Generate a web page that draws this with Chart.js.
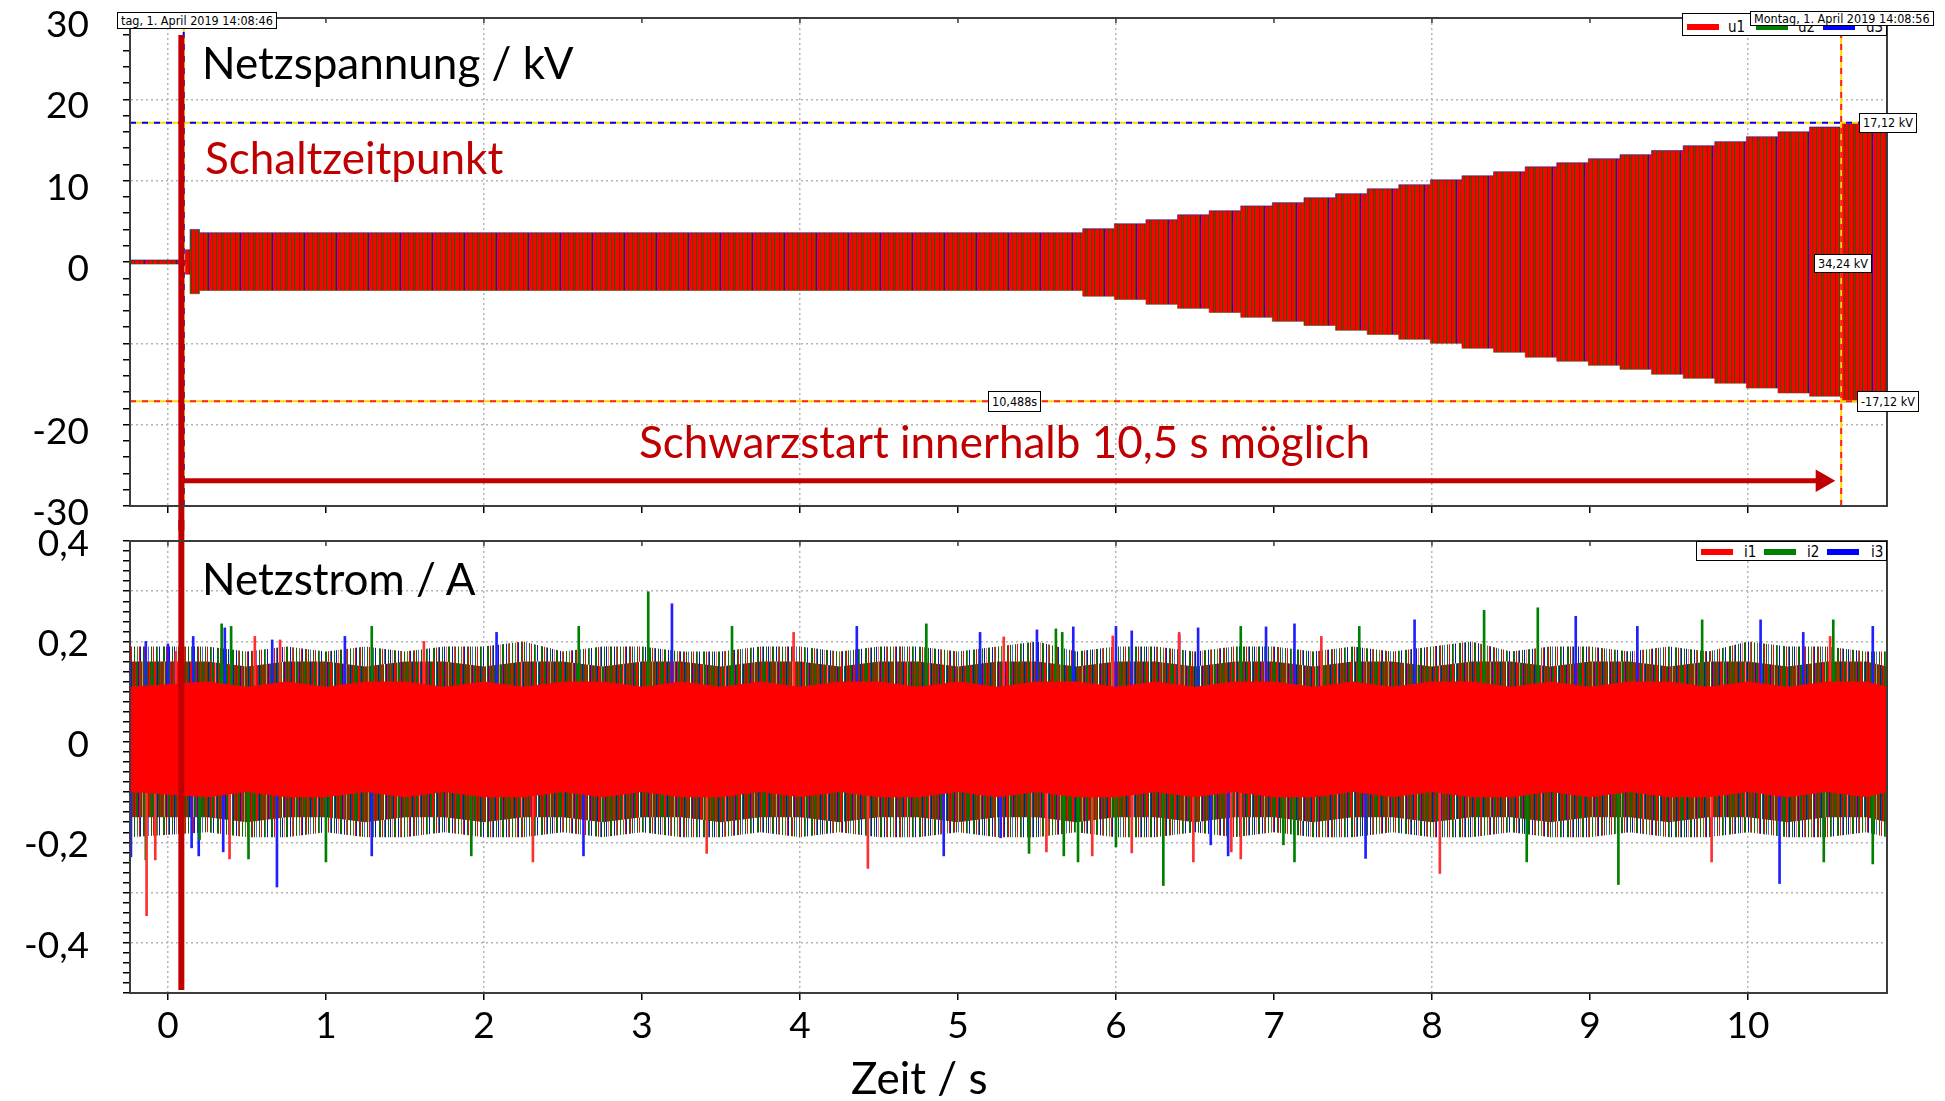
<!DOCTYPE html>
<html>
<head>
<meta charset="utf-8">
<script src="https://cdn.jsdelivr.net/npm/chart.js@4.4.1/dist/chart.umd.min.js"></script>
<style>
    html, body { margin: 0; padding: 0; background: #fff; }
    body { width: 1945px; height: 1101px; position: relative; overflow: hidden; font-family: Lato, "Open Sans", sans-serif; }
    canvas { position: absolute; left: 0; }
    #topChart { top: 0; }
    #botChart { top: 520px; }
    .lbl { position: absolute; white-space: nowrap; line-height: 1; font-size: 44px; color: #000; }
    .red { color: #c00000; }
    .box { position: absolute; background: #fff; border: 1px solid #000; box-sizing: border-box;
           font-family: "Liberation Sans Narrow", "DejaVu Sans Condensed", sans-serif; font-size: 12.5px;
           line-height: 13px; padding: 0 3px; white-space: nowrap; color: #000; }
    .legend { position: absolute; background: #fff; border: 1px solid #000; box-sizing: border-box; }
    .legend span { position: absolute; font-family: "Liberation Sans Narrow", "DejaVu Sans Condensed", sans-serif; font-size: 15px; line-height: 1; }
    .legend i { position: absolute; height: 6px; width: 32px; }
</style>
</head>
<body>
<canvas id="topChart" width="1945" height="545"></canvas>
<canvas id="botChart" width="1945" height="581"></canvas>

<div class="lbl" style="left:202px;top:40px;">Netzspannung / kV</div>
<div class="lbl red" style="left:205px;top:135px;">Schaltzeitpunkt</div>
<div class="lbl red" style="left:639px;top:419px;">Schwarzstart innerhalb 10,5 s möglich</div>
<div class="lbl" style="left:202px;top:556px;">Netzstrom / A</div>
<div class="lbl" style="left:851px;top:1055px;">Zeit / s</div>

<div class="legend" style="left:1682px;top:13px;width:205px;height:23px;">
    <i style="left:4px;top:10px;background:#ff0000;"></i><span style="left:45px;top:6px;">u1</span>
    <i style="left:73px;top:10px;background:#008000;"></i><span style="left:115px;top:6px;">u2</span>
    <i style="left:140px;top:10px;background:#0000ff;"></i><span style="left:183px;top:6px;">u3</span>
</div>
<div class="box" style="left:117px;top:12px;height:17px;line-height:15px;">tag, 1. April 2019 14:08:46</div>
<div class="box" style="left:1750px;top:11px;height:15px;">Montag, 1. April 2019 14:08:56</div>
<div class="legend" style="left:1696px;top:541px;width:191px;height:20px;">
    <i style="left:4px;top:7px;background:#ff0000;"></i><span style="left:47px;top:3px;">i1</span>
    <i style="left:67px;top:7px;background:#008000;"></i><span style="left:110px;top:3px;">i2</span>
    <i style="left:130px;top:7px;background:#0000ff;"></i><span style="left:174px;top:3px;">i3</span>
</div>
<div class="box" style="left:1859px;top:113px;height:20px;line-height:18px;">17,12 kV</div>
<div class="box" style="left:1814px;top:254px;height:19px;line-height:17px;">34,24 kV</div>
<div class="box" style="left:1857px;top:391px;height:21px;line-height:19px;">-17,12 kV</div>
<div class="box" style="left:988px;top:391px;height:21px;line-height:19px;">10,488s</div>

<script>
// time axis (s)
const xMin = -0.24;
const xMax = 10.88;

// Netzspannung: envelope of u1..u3 (kV), stepwise ramp after ~5.8 s
const uTime  = [-0.24, 0.11, 0.14, 0.2, 5.79, 5.99, 6.19, 6.39, 6.59, 6.79, 6.99, 7.19, 7.39, 7.59, 7.79, 7.99, 8.19, 8.39, 8.59, 8.79, 8.99, 9.19, 9.39, 9.59, 9.79, 9.99, 10.19, 10.39, 10.59, 10.88];
const uUpper = [0.25, 1.5, 4.0, 3.6, 4.1, 4.7, 5.2, 5.8, 6.3, 6.9, 7.3, 7.9, 8.4, 9.0, 9.5, 10.1, 10.6, 11.1, 11.7, 12.2, 12.7, 13.2, 13.7, 14.3, 14.8, 15.4, 16.0, 16.6, 17.1, 17.1];
const uLower = [-0.25, -1.5, -3.9, -3.5, -4.2, -4.6, -5.2, -5.7, -6.2, -6.8, -7.3, -7.8, -8.4, -8.9, -9.5, -10.0, -10.6, -11.1, -11.7, -12.2, -12.7, -13.2, -13.8, -14.3, -14.9, -15.5, -16.1, -16.5, -17.2, -17.2];

// cursors
const cursorTimes = [0.10, 10.59];
const cursorLevels = [17.12, -17.12];
const switchTime = 0.085;
const arrowLevel = -26.9;
const arrowEnd = 10.47;

// Netzstrom: noise band of i1..i3 (A)
const iTime = [-0.24, 0.25, 0.5, 0.75, 1, 1.25, 1.5, 1.75, 2, 2.25, 2.5, 2.75, 3, 3.25, 3.5, 3.75, 4, 4.25, 4.5, 4.75, 5, 5.25, 5.5, 5.75, 6, 6.25, 6.5, 6.75, 7, 7.25, 7.5, 7.75, 8, 8.25, 8.5, 8.75, 9, 9.25, 9.5, 9.75, 10, 10.25, 10.5, 10.75, 10.88];
const iCoreUp  = [0.11, 0.12, 0.11, 0.12, 0.11, 0.12, 0.12, 0.11, 0.12, 0.11, 0.12, 0.12, 0.11, 0.12, 0.11, 0.12, 0.11, 0.12, 0.12, 0.11, 0.12, 0.11, 0.12, 0.12, 0.11, 0.12, 0.11, 0.12, 0.12, 0.11, 0.12, 0.11, 0.12, 0.12, 0.11, 0.12, 0.11, 0.12, 0.12, 0.11, 0.12, 0.11, 0.12, 0.12, 0.11];
const iCoreLow = [-0.10, -0.11, -0.10, -0.11, -0.11, -0.10, -0.11, -0.10, -0.11, -0.11, -0.10, -0.11, -0.10, -0.11, -0.11, -0.10, -0.11, -0.10, -0.11, -0.11, -0.10, -0.11, -0.10, -0.11, -0.11, -0.10, -0.11, -0.10, -0.11, -0.11, -0.10, -0.11, -0.10, -0.11, -0.11, -0.10, -0.11, -0.10, -0.11, -0.11, -0.10, -0.11, -0.10, -0.11, -0.10];
const iDenseUp  = [0.16, 0.16, 0.15, 0.16, 0.16, 0.15, 0.16, 0.16, 0.15, 0.16, 0.16, 0.15, 0.16, 0.16, 0.15, 0.16, 0.16, 0.15, 0.16, 0.16, 0.15, 0.16, 0.16, 0.15, 0.16, 0.16, 0.15, 0.16, 0.16, 0.15, 0.16, 0.16, 0.15, 0.16, 0.16, 0.15, 0.16, 0.16, 0.15, 0.16, 0.16, 0.15, 0.16, 0.16, 0.15];
const iDenseLow = [-0.15, -0.15, -0.16, -0.15, -0.15, -0.16, -0.15, -0.15, -0.16, -0.15, -0.15, -0.16, -0.15, -0.15, -0.16, -0.15, -0.15, -0.16, -0.15, -0.15, -0.16, -0.15, -0.15, -0.16, -0.15, -0.15, -0.16, -0.15, -0.15, -0.16, -0.15, -0.15, -0.16, -0.15, -0.15, -0.16, -0.15, -0.15, -0.16, -0.15, -0.15, -0.16, -0.15, -0.15, -0.16];
const iSparseUp  = [0.19, 0.19, 0.18, 0.19, 0.18, 0.19, 0.18, 0.19, 0.19, 0.20, 0.18, 0.19, 0.19, 0.18, 0.18, 0.19, 0.19, 0.18, 0.19, 0.19, 0.18, 0.19, 0.20, 0.18, 0.19, 0.19, 0.18, 0.19, 0.19, 0.18, 0.19, 0.18, 0.19, 0.20, 0.18, 0.19, 0.19, 0.18, 0.19, 0.18, 0.20, 0.19, 0.19, 0.18, 0.18];
const iSparseLow = [-0.19, -0.18, -0.19, -0.19, -0.18, -0.19, -0.19, -0.18, -0.19, -0.19, -0.18, -0.19, -0.18, -0.19, -0.19, -0.18, -0.19, -0.18, -0.19, -0.19, -0.18, -0.19, -0.19, -0.18, -0.19, -0.19, -0.18, -0.19, -0.18, -0.19, -0.19, -0.18, -0.19, -0.19, -0.18, -0.19, -0.19, -0.18, -0.19, -0.19, -0.18, -0.19, -0.19, -0.18, -0.19];

// single peaks (A)
const i1PeakTime = [-0.135, -0.08, 0.05, 0.39, 0.55, 0.71, 1.62, 2.31, 3.41, 3.96, 4.43, 5.29, 5.56, 5.85, 5.98, 6.10, 6.40, 6.49, 6.73, 6.79, 7.30, 8.05, 9.77, 10.52];
const i1PeakVal  = [-0.346, -0.235, 0.18, -0.233, 0.21, 0.203, 0.20, -0.239, -0.222, 0.218, -0.252, 0.209, -0.219, -0.227, 0.211, -0.221, 0.218, -0.239, -0.219, -0.233, 0.21, -0.262, -0.239, 0.21];
const i2PeakTime = [-0.14, 0.20, 0.34, 0.40, 0.51, 1.0, 1.29, 1.92, 2.60, 3.04, 3.57, 4.80, 5.45, 5.62, 5.66, 5.67, 5.76, 6.00, 6.30, 6.79, 7.06, 7.13, 7.54, 8.33, 8.60, 8.67, 9.18, 9.71, 10.48, 10.54, 10.79];
const i2PeakVal  = [-0.235, -0.195, 0.235, 0.23, -0.233, -0.239, 0.23, -0.227, 0.23, 0.299, 0.23, 0.235, -0.222, 0.225, 0.218, -0.227, -0.239, -0.209, -0.286, 0.23, -0.205, -0.239, 0.23, 0.262, -0.239, 0.267, -0.284, 0.243, -0.239, 0.243, -0.243];
const i3PeakTime = [-0.234, -0.14, 0.0, 0.15, 0.16, 0.195, 0.35, 0.36, 0.66, 0.69, 1.12, 1.29, 2.08, 2.63, 3.19, 4.36, 4.91, 5.14, 5.27, 5.50, 5.73, 6.0, 6.10, 6.40, 6.52, 6.60, 6.71, 6.95, 7.13, 7.58, 7.89, 8.91, 9.30, 10.08, 10.20, 10.35, 10.79];
const i3PeakVal  = [-0.229, 0.20, 0.195, -0.211, 0.21, -0.227, -0.219, 0.227, 0.203, -0.289, 0.21, -0.227, 0.218, -0.227, 0.275, 0.23, -0.227, 0.218, -0.191, 0.223, 0.229, 0.23, 0.221, 0.213, 0.227, -0.205, -0.227, 0.229, 0.235, -0.232, 0.243, 0.25, 0.23, 0.243, -0.282, 0.218, 0.23];

const tickFont = { family: "Lato, 'Open Sans', sans-serif", size: 37 };
const gridGray = "#b4b4b4";
const axisColor = "#3c3c3c";

const swatch = { R: "#ff0000", G: "#0a6a00", g: "#3a8a30", B: "#1010d0", b: "#6060ff", M: "#8a2200", O: "#4a5000", W: "#ffffff", P: "#ff7070" };
function stripePattern(code) {
    const c = document.createElement("canvas");
    c.width = code.length;
    c.height = 1;
    const g = c.getContext("2d");
    code.split("").forEach((ch, i) => { g.fillStyle = swatch[ch]; g.fillRect(i, 0, 1, 1); });
    return g.createPattern(c, "repeat");
}

const voltFill = stripePattern("RRRORRGRRRRMRRRGBRRRORRRGRRRRMRG");
const denseFill = stripePattern("GRRGBGMRGGRPGBRGGRMGRBGGRRGWGBRGMRGGBRRGPGGRBGMRGOG");
const sparseFill = stripePattern("WGGWRWgBWWGWBWPWGGWWBWgRWWGWWgWRBWWGRWGWbWWGWRWWGgWBWW");

const toPts = (xs, ys) => xs.map((x, i) => ({ x: x, y: ys[i] }));
const comma = v => String(v).replace(".", ",");

const framePlugin = {
    id: "frame",
    afterDraw(chart) {
        const a = chart.chartArea, ctx = chart.ctx;
        ctx.save();
        ctx.strokeStyle = axisColor;
        ctx.lineWidth = 2;
        ctx.strokeRect(a.left, a.top, a.right - a.left, a.bottom - a.top);
        // short tick marks on the top edge
        const xs = chart.scales.x;
        ctx.lineWidth = 1.5;
        xs.ticks.forEach(t => {
            const px = xs.getPixelForValue(t.value);
            ctx.beginPath();
            ctx.moveTo(px, a.top);
            ctx.lineTo(px, a.top + 5);
            ctx.stroke();
        });
        ctx.restore();
    }
};

function xScale(showLabels, height) {
    return {
        type: "linear",
        min: xMin,
        max: xMax,
        offset: false,
        ticks: {
            stepSize: 1,
            includeBounds: false,
            display: showLabels,
            color: "#000",
            font: tickFont,
            padding: 4,
            maxRotation: 0,
            autoSkip: false
        },
        grid: {
            offset: false,
            color: ctx => (ctx.tick && Math.round(ctx.tick.value) % 2 === 0) ? gridGray : "transparent",
            tickColor: "#000",
            tickLength: 7,
            lineWidth: 1.5
        },
        border: { color: axisColor, width: 2, dash: [2, 3] },
        afterFit(scale) {
            scale.height = height;
            scale.paddingLeft = 0;
            scale.paddingRight = 0;
        }
    };
}

function yScale(min, max, step, labelShift, isMajor, labelOf) {
    return {
        type: "linear",
        min: min,
        max: max,
        ticks: {
            stepSize: step,
            autoSkip: false,
            color: "#000",
            font: tickFont,
            padding: 34,
            labelOffset: labelShift,
            callback: v => labelOf(v)
        },
        grid: {
            color: ctx => (ctx.tick && isMajor(ctx.tick.value)) ? gridGray : "transparent",
            tickColor: "#000",
            tickLength: 7,
            lineWidth: 1.5
        },
        border: { color: axisColor, width: 2, dash: [2, 3] },
        afterFit(scale) {
            scale.width = 130;
            scale.paddingTop = 0;
            scale.paddingBottom = 0;
        }
    };
}

function lineSet(data, color, width, extra) {
    return Object.assign({
        type: "line",
        data: data,
        borderColor: color,
        borderWidth: width,
        pointRadius: 0,
        fill: false
    }, extra || {});
}

// ---------- Netzspannung ----------
new Chart(document.getElementById("topChart"), {
    type: "line",
    data: {
        datasets: [
            lineSet([{ x: switchTime, y: 27.9 }, { x: switchTime, y: -33 }], "#c00000", 6, { clip: false, order: 0 }),
            lineSet([{ x: switchTime, y: arrowLevel }, { x: arrowEnd, y: arrowLevel }], "#c00000", 5, {
                order: 1,
                pointRadius: [0, 13],
                pointStyle: "triangle",
                pointRotation: 90,
                pointBackgroundColor: "#c00000",
                pointBorderWidth: 0
            }),
            lineSet([{ x: cursorTimes[0], y: -30 }, { x: cursorTimes[0], y: 30 }], "#0000ff", 2, { order: 2, borderDash: [6, 6] }),
            lineSet([{ x: cursorTimes[0], y: -30 }, { x: cursorTimes[0], y: 30 }], "#ffd700", 2, { order: 3 }),
            lineSet([{ x: cursorTimes[1], y: -30 }, { x: cursorTimes[1], y: 28.5 }], "#ff2020", 2, { order: 2, borderDash: [6, 6] }),
            lineSet([{ x: cursorTimes[1], y: -30 }, { x: cursorTimes[1], y: 28.5 }], "#ffd700", 2, { order: 3 }),
            lineSet([{ x: xMin, y: cursorLevels[0] }, { x: xMax, y: cursorLevels[0] }], "#0000ff", 2, { order: 2, borderDash: [6, 6] }),
            lineSet([{ x: xMin, y: cursorLevels[0] }, { x: xMax, y: cursorLevels[0] }], "#ffd700", 2, { order: 3 }),
            lineSet([{ x: xMin, y: cursorLevels[1] }, { x: xMax, y: cursorLevels[1] }], "#ff2020", 2, { order: 2, borderDash: [6, 6] }),
            lineSet([{ x: xMin, y: cursorLevels[1] }, { x: xMax, y: cursorLevels[1] }], "#ffd700", 2, { order: 3 }),
            lineSet(toPts(uTime, uUpper), "rgba(30,30,160,0.6)", 1, { label: "u1", stepped: "before", order: 10, fill: "+1", backgroundColor: voltFill }),
            lineSet(toPts(uTime, uLower), "rgba(30,90,30,0.6)", 1, { label: "u2", stepped: "before", order: 11 })
        ]
    },
    options: {
        responsive: false,
        animation: false,
        events: [],
        layout: { padding: { top: 18, right: 58, left: 0, bottom: 0 } },
        plugins: { legend: { display: false }, tooltip: { enabled: false } },
        scales: {
            x: xScale(false, 39),
            y: yScale(-30, 30, 2, 7,
                v => Math.round(v) % 10 === 0,
                v => (Math.round(v) % 10 === 0 && Math.round(v) !== -10) ? String(Math.round(v)) : "")
        }
    },
    plugins: [framePlugin]
});

// ---------- Netzstrom ----------
const peakBars = (ts, vs, color) => ({
    type: "bar",
    data: ts.map((t, i) => ({ x: t, y: [0, vs[i]] })),
    backgroundColor: color,
    barThickness: 2,
    grouped: false,
    order: 15
});

new Chart(document.getElementById("botChart"), {
    type: "line",
    data: {
        datasets: [
            lineSet([{ x: switchTime, y: 0.442 }, { x: switchTime, y: -0.494 }], "#c00000", 6, { clip: false, order: 0 }),
            lineSet(toPts(iTime, iCoreUp), swatch.R, 0, { label: "i1", order: 10, fill: "+1", backgroundColor: swatch.R }),
            lineSet(toPts(iTime, iCoreLow), swatch.R, 0, { order: 11 }),
            peakBars(i1PeakTime, i1PeakVal, "#ff3030"),
            peakBars(i2PeakTime, i2PeakVal, "#008000"),
            peakBars(i3PeakTime, i3PeakVal, "#2020ff"),
            lineSet(toPts(iTime, iDenseUp), swatch.G, 0, { label: "i2", order: 20, fill: "+1", backgroundColor: denseFill }),
            lineSet(toPts(iTime, iDenseLow), swatch.G, 0, { order: 21 }),
            lineSet(toPts(iTime, iSparseUp), swatch.B, 0, { label: "i3", order: 22, fill: "+1", backgroundColor: sparseFill }),
            lineSet(toPts(iTime, iSparseLow), swatch.B, 0, { order: 23 })
        ]
    },
    options: {
        responsive: false,
        animation: false,
        events: [],
        layout: { padding: { top: 21, right: 58, left: 0, bottom: 0 } },
        plugins: { legend: { display: false }, tooltip: { enabled: false } },
        scales: {
            x: xScale(true, 108),
            y: yScale(-0.5, 0.4, 0.02, 3,
                v => Math.round(v * 100) % 10 === 0,
                v => Math.round(v * 100) % 20 === 0 ? comma(Math.round(v * 10) / 10) : "")
        }
    },
    plugins: [framePlugin]
});
</script>
</body>
</html>
